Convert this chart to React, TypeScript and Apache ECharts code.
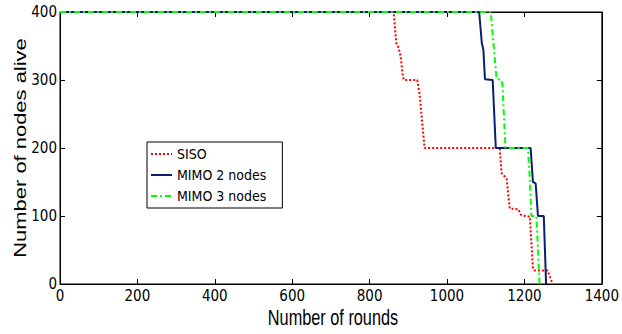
import React, { useEffect, useRef } from "react";
import * as echarts from "echarts";

const seriesNames = ["SISO", "MIMO 2 nodes", "MIMO 3 nodes"];
const xTicks = [0, 200, 400, 600, 800, 1000, 1200, 1400];
const yTicks = [0, 100, 200, 300, 400];
const xTitle = "Number of rounds";
const yTitle = "Number of nodes alive";

const sisoData: [number, number][] = [
  [0, 400], [862, 400], [869, 354], [874, 349], [880, 335], [886, 305], [889, 300],
  [923, 300], [929, 280], [942, 200], [1136, 200], [1141, 163], [1154, 155],
  [1162, 111], [1184, 110], [1192, 101], [1214, 99], [1222, 23], [1226, 20],
  [1260, 20], [1266, 10], [1273, 0],
];
const mimo2Data: [number, number][] = [
  [0, 400], [1083, 400], [1090, 354], [1094, 344], [1098, 301], [1118, 300],
  [1126, 200], [1216, 200], [1222, 150], [1229, 148], [1235, 100], [1250, 100],
  [1256, 0],
];
const mimo3Data: [number, number][] = [
  [0, 400], [1113, 400], [1128, 302], [1140, 300], [1143, 295], [1151, 200],
  [1209, 200], [1214, 153], [1218, 100], [1231, 100], [1239, 0],
];

const COND = "'DejaVu Sans Condensed', 'Liberation Sans', Arial, sans-serif";
const SANS = "'Liberation Sans', Arial, sans-serif";

export default function App() {
  const ref = useRef<HTMLDivElement>(null);
  useEffect(() => {
    if (!ref.current) return;
    const chart = echarts.init(ref.current, undefined, { renderer: "svg" });
    const xMin = xTicks[0], xMax = xTicks[xTicks.length - 1];
    const yMin = yTicks[0], yMax = yTicks[yTicks.length - 1];
    const xInt = xTicks[1] - xTicks[0];
    const yInt = yTicks[1] - yTicks[0];
    const baseAxis = {
      axisLine: { show: true, onZero: false, lineStyle: { color: "#000", width: 1 } },
      axisTick: { show: true, inside: true, length: 5, lineStyle: { color: "#000" } },
      splitLine: { show: false },
    };
    const fmt = (v: number) => String(v);
    chart.setOption({
      animation: false,
      backgroundColor: "#fff",
      grid: { left: 60, right: 16, top: 12, bottom: 50, show: true, borderColor: "#000", borderWidth: 1 },
      xAxis: [
        {
          ...baseAxis,
          type: "value", min: xMin, max: xMax, interval: xInt, position: "bottom",
          axisLabel: { color: "#000", fontFamily: COND, fontSize: 15, margin: 4, formatter: fmt },
        },
        {
          ...baseAxis,
          type: "value", min: xMin, max: xMax, interval: xInt, position: "top",
          axisLabel: { show: false },
        },
      ],
      yAxis: [
        {
          ...baseAxis,
          type: "value", min: yMin, max: yMax, interval: yInt, position: "left",
          axisLabel: { color: "#000", fontFamily: COND, fontSize: 15, margin: 3, formatter: fmt },
        },
        {
          ...baseAxis,
          type: "value", min: yMin, max: yMax, interval: yInt, position: "right",
          axisLabel: { show: false },
        },
      ],
      legend: {
        orient: "vertical",
        left: 147, top: 142,
        padding: [5, 16, 5, 3],
        itemWidth: 21, itemHeight: 14, itemGap: 7,
        backgroundColor: "#fff",
        borderColor: "#000", borderWidth: 1,
        itemStyle: { opacity: 0 },
        textStyle: { color: "#000", fontFamily: COND, fontSize: 14 },
        data: seriesNames,
      },
      graphic: [
        {
          type: "text",
          x: 20, y: 148,
          rotation: Math.PI / 2,
          scaleX: 1.33,
          style: {
            text: yTitle,
            fontFamily: SANS, fontSize: 16.5, fill: "#000",
            align: "center", verticalAlign: "middle",
          },
        },
        {
          type: "text",
          x: 333, y: 318,
          scaleY: 1.3,
          style: {
            text: xTitle,
            fontFamily: SANS, fontSize: 16.3, fill: "#000",
            align: "center", verticalAlign: "middle",
          },
        },
      ],
      series: [
        {
          name: seriesNames[0], type: "line", data: sisoData, symbol: "none",
          lineStyle: { color: "#ff0000", width: 2, type: [2, 2] },
          itemStyle: { color: "#ff0000" },
        },
        {
          name: seriesNames[1], type: "line", data: mimo2Data, symbol: "none",
          lineStyle: { color: "#0a1f6b", width: 2, type: "solid" },
          itemStyle: { color: "#0a1f6b" },
        },
        {
          name: seriesNames[2], type: "line", data: mimo3Data, symbol: "none",
          lineStyle: { color: "#00ff00", width: 2, type: [6, 3, 2, 3] },
          itemStyle: { color: "#00ff00" },
        },
      ],
    });
    return () => chart.dispose();
  }, []);
  return (
    <div
      ref={ref}
      style={{ position: "fixed", left: 0, top: 0, width: 622, height: 334, background: "#fff" }}
    />
  );
}
